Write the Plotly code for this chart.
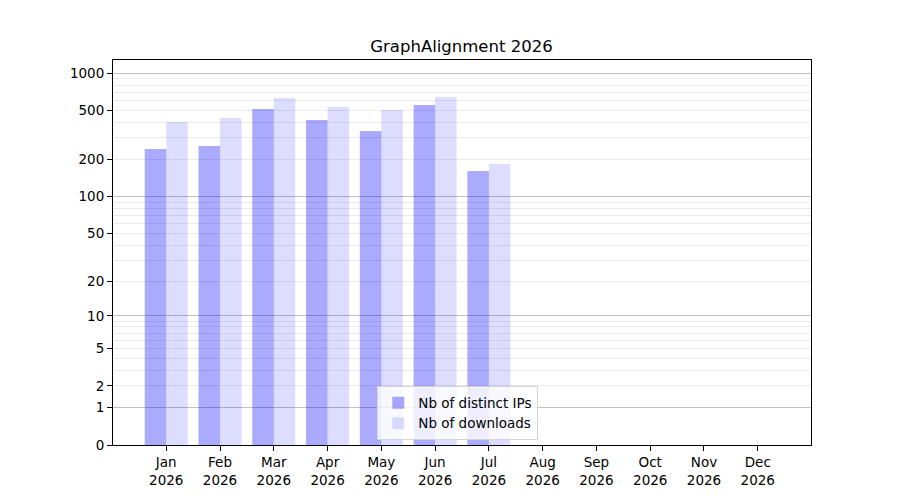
import plotly.graph_objects as go

year = 2026
months = ["Jan", "Feb", "Mar", "Apr", "May", "Jun",
          "Jul", "Aug", "Sep", "Oct", "Nov", "Dec"]
distinct_ips = [244, 258, 514, 419, 341, 554, 162, 0, 0, 0, 0, 0]
downloads = [404, 435, 631, 534, 505, 643, 184, 0, 0, 0, 0, 0]

# y axis is log10(1 + value), labelled with the original values
y_ticks = [0, 1, 2, 5, 10, 20, 50, 100, 200, 500, 1000]
major_grid = [1, 10, 100, 1000]
minor_grid = [k * d for d in (1, 10, 100) for k in range(2, 10)]

labels = [f"{m}<br>{year}" for m in months]
font = dict(family="DejaVu Sans", size=13.5, color="black")

fig = go.Figure()
fig.add_trace(go.Bar(x=labels, y=[v + 1 for v in distinct_ips],
                     name="Nb of distinct IPs",
                     marker=dict(color="rgba(0,0,255,0.333)", line_width=0),
                     customdata=distinct_ips,
                     hovertemplate="%{customdata}<extra></extra>"))
fig.add_trace(go.Bar(x=labels, y=[v + 1 for v in downloads],
                     name="Nb of downloads",
                     marker=dict(color="rgba(0,0,255,0.133)", line_width=0),
                     customdata=downloads,
                     hovertemplate="%{customdata}<extra></extra>"))
# empty trace so the overlay axis carrying the major grid gets drawn
fig.add_trace(go.Scatter(x=[], y=[], yaxis="y2", showlegend=False,
                         hoverinfo="skip"))

# page body has an 8px margin, so the figure is drawn 8px smaller
y_range = [0, 3.107]
fig.update_layout(
    width=892, height=492,
    margin=dict(l=105, r=89, t=52, b=55),
    paper_bgcolor="white", plot_bgcolor="rgba(0,0,0,0)",
    font=font,
    title=dict(text=f"GraphAlignment {year}", x=0.5084, xanchor="center",
               y=0.923, yanchor="middle", font=dict(size=16.5)),
    barmode="group", bargap=0.2, bargroupgap=0,
    showlegend=True,
    legend=dict(x=0.494, xanchor="center", y=0.012, yanchor="bottom",
                bgcolor="rgba(255,255,255,0.8)", bordercolor="#d5d5d5",
                borderwidth=1, font=font, itemwidth=30),
    xaxis=dict(type="category", categoryorder="array", categoryarray=labels,
               range=[-0.99, 11.99], showgrid=False, zeroline=False,
               showline=True, linecolor="black", linewidth=1.1, mirror=True,
               ticks="outside", ticklen=5, tickwidth=1.1, tickcolor="black"),
    yaxis=dict(type="log", range=y_range,
               tickmode="array", tickvals=[t + 1 for t in y_ticks],
               ticktext=[str(t) for t in y_ticks],
               showgrid=False, zeroline=False,
               showline=True, linecolor="black", linewidth=1.1, mirror=True,
               ticks="outside", ticklen=5, tickwidth=1.1, tickcolor="black",
               minor=dict(tickmode="array", tickvals=[v + 1 for v in minor_grid],
                          showgrid=True, gridcolor="#ebebeb", gridwidth=1,
                          ticks="")),
    yaxis2=dict(type="log", range=y_range, overlaying="y", side="left",
                tickmode="array", tickvals=[v + 1 for v in major_grid],
                showticklabels=False, ticks="", showline=False,
                showgrid=True, gridcolor="#c0c0c0", gridwidth=1, zeroline=False),
)

fig.write_html("out.html")
